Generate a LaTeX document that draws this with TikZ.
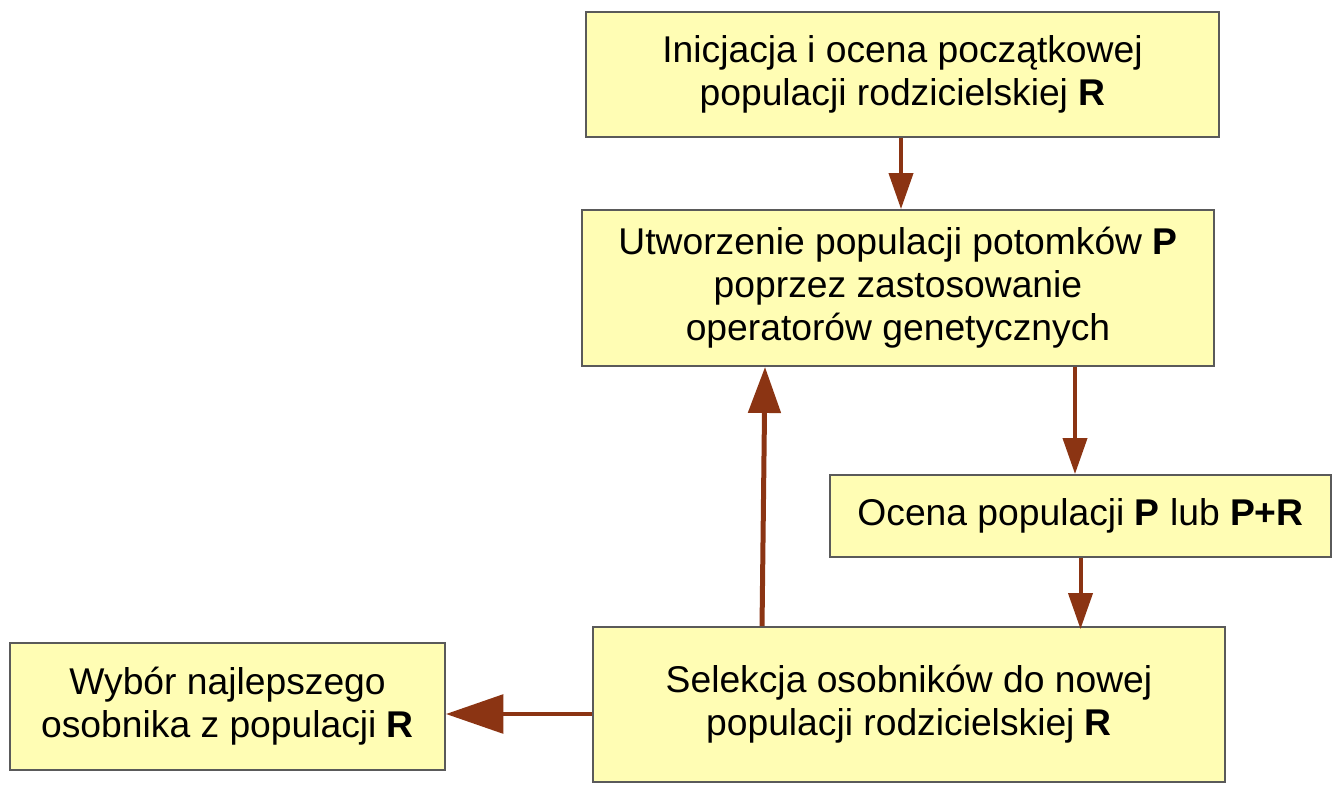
\documentclass[tikz,border=0pt]{standalone}
\usepackage{fontspec}
\setmainfont{Liberation Sans}
\usetikzlibrary{arrows.meta}
\definecolor{boxfill}{RGB}{255,253,180}
\definecolor{boxline}{RGB}{90,90,90}
\definecolor{arrbrown}{RGB}{139,52,19}
\begin{document}
\begin{tikzpicture}[x=0.02cm, y=-0.02cm,
  every node/.style={font=\fontsize{21.2}{24.5}\selectfont},
  stepbox/.style={rectangle, draw=boxline, line width=1.1pt, fill=boxfill, align=center, inner sep=0pt},
  arr/.style={arrbrown, line width=0.08cm, -{Triangle[length=0.72cm, width=0.48cm]}},
  bigarr/.style={arrbrown, line width=0.1cm, -{Triangle[length=0.92cm, width=0.64cm]}},
  widearr/.style={arrbrown, line width=0.09cm, -{Triangle[length=1.15cm, width=0.77cm]}}]
  \useasboundingbox (0,0) rectangle (1333,792);
  % Boxes of the evolution loop
  \node[stepbox, minimum width=12.66cm, minimum height=2.5cm] (init) at (902.5,74.5)
    {Inicjacja i ocena początkowej\\ populacji rodzicielskiej \textbf{R}};
  \node[stepbox, minimum width=12.64cm, minimum height=3.12cm] (utw) at (898,288)
    {Utworzenie populacji potomków \textbf{P}\\ poprzez zastosowanie\\ operatorów genetycznych};
  \node[stepbox, minimum width=10.02cm, minimum height=1.64cm] (ocena) at (1080.5,516)
    {Ocena populacji \textbf{P} lub \textbf{P+R}};
  \node[stepbox, minimum width=12.64cm, minimum height=3.1cm] (sel) at (909,704.5)
    {Selekcja osobników do nowej\\ populacji rodzicielskiej \textbf{R}};
  \node[stepbox, minimum width=8.7cm, minimum height=2.54cm] (wyb) at (227.5,706.5)
    {Wybór najlepszego\\ osobnika z populacji \textbf{R}};
  % Arrows
  \draw[arr] ([xshift=-0.03cm]init.south) -- ([xshift=-0.03cm]init.south |- utw.north);
  \draw[arr] ([xshift=-0.11cm]utw.south -| ocena.north) -- ([xshift=-0.11cm]ocena.north);
  \draw[arr] (ocena.south) -- ([yshift=-0.06cm]ocena.south |- sel.north);
  \draw[bigarr] ([xshift=-2.94cm]sel.north) -- ([xshift=-2.66cm]utw.south);
  \coordinate (selout) at ([yshift=-0.19cm]sel.west);
  \draw[widearr] (selout) -- (selout -| wyb.east);
\end{tikzpicture}
\end{document}
